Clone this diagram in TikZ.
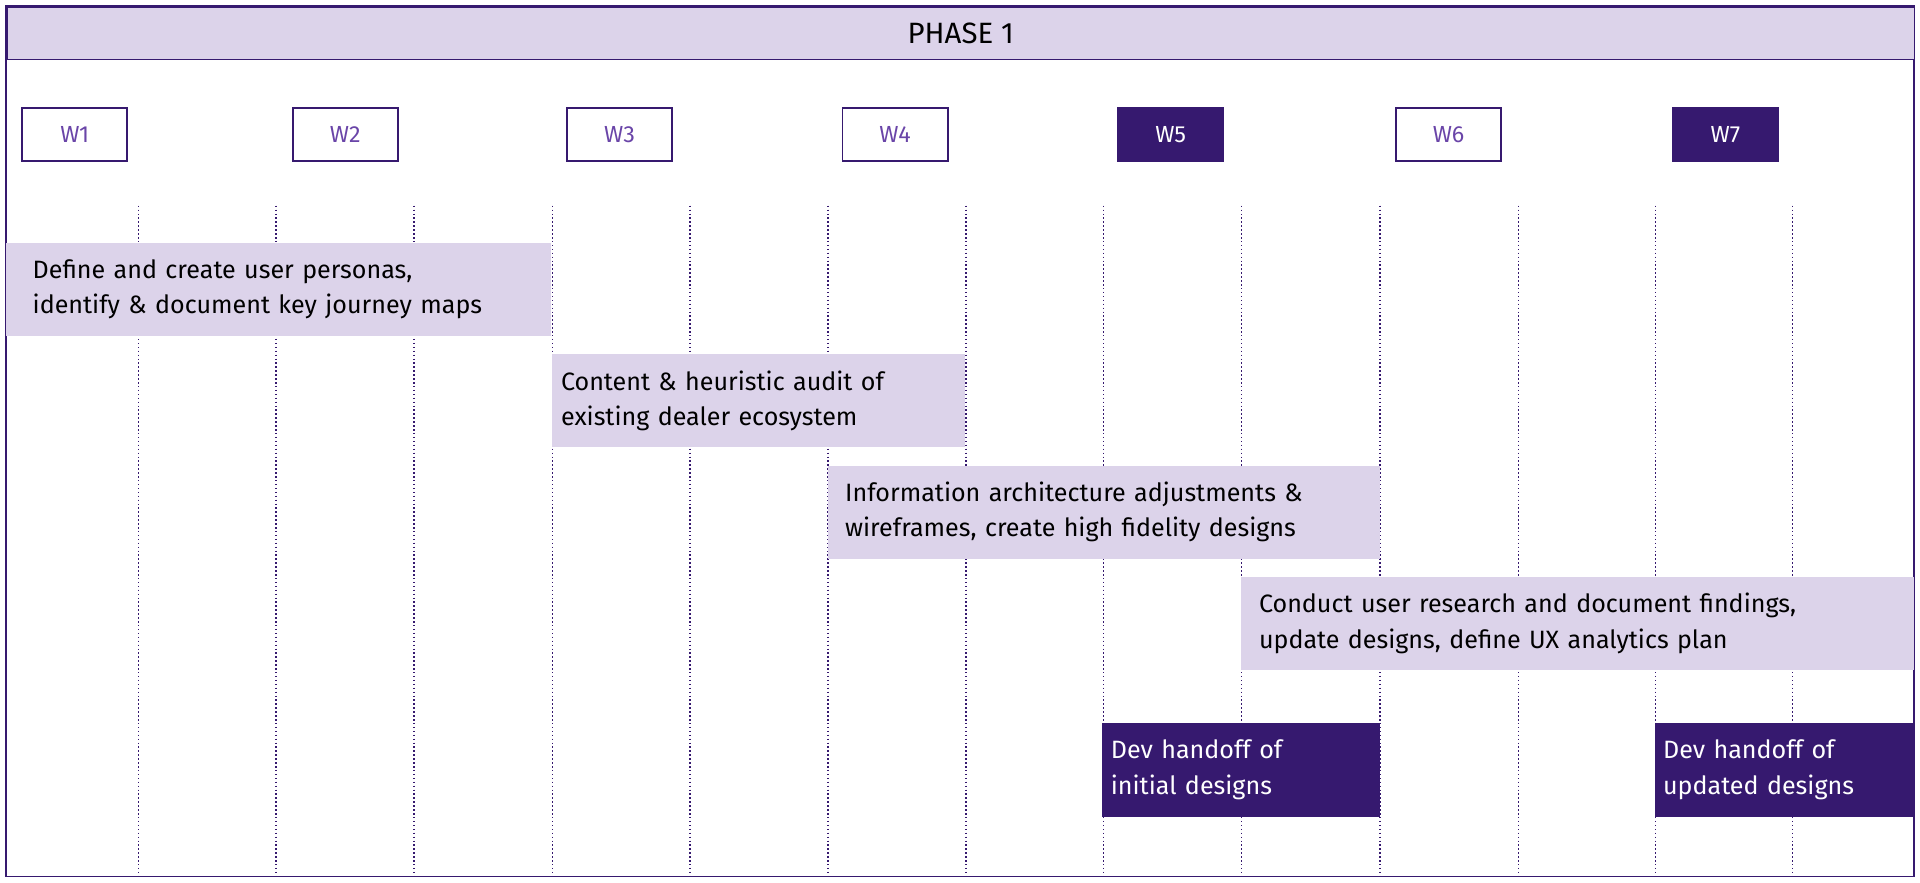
\documentclass[tikz,border=0pt]{standalone}
\usepackage{fontspec}
\setmainfont{Fira Sans}
\usepackage{tikz}
\usetikzlibrary{positioning}
\definecolor{lav}{HTML}{DCD3EA}
\definecolor{deep}{HTML}{36196F}
\definecolor{wtext}{HTML}{6A45A8}

\begin{document}
\begin{tikzpicture}[x=1pt,y=-1pt,
  week/.style={draw=deep,line width=1.5pt,minimum width=86pt,minimum height=43pt,
    inner sep=0pt,text=wtext,font=\fontsize{19}{22}\selectfont},
  weekdone/.style={week,fill=deep,text=white},
  task/.style={fill=lav,anchor=north west,align=left,inner sep=0pt,
    text=black,font=\fontsize{20.5}{29}\selectfont},
  handoff/.style={task,fill=deep,text=white}]

  \useasboundingbox (0,0) rectangle (1568,721);
  % frame and header
  \draw[deep,line width=1.2pt] (5,5) rectangle (1563,716);
  \node[draw=deep,line width=1.2pt,fill=lav,anchor=north west,minimum width=1558pt,
    minimum height=43pt,inner sep=0pt,font=\fontsize{24}{28}\selectfont] (phase) at (5,5) {PHASE 1};

  % weeks
  \node[week] (w1) at (61,110) {W1};
  \node[week] (w2) at (282,110) {W2};
  \node[week] (w3) at (506,110) {W3};
  \node[week] (w4) at (731,110) {W4};
  \node[weekdone] (w5) at (956,110) {W5};
  \node[week] (w6) at (1183,110) {W6};
  \node[weekdone] (w7) at (1409,110) {W7};

  % half-week grid
  \foreach \gx in {113,225.5,338,451,563.5,676,789,901,1014,1127,1240,1352,1464}
    \draw[deep,dotted,line width=1.2pt] (\gx,168) -- (\gx,716);

  % tasks
  \node[task,minimum width=445pt,minimum height=76pt,text width=426pt] (t1) at (5,198)
    {\hspace*{12pt}\parbox[c][76pt][c]{420pt}{Define and create user personas,\\identify \& document key journey maps}};
  \node[task,minimum width=337pt,minimum height=76pt,text width=337pt] (t2) at (451,289)
    {\hspace*{7pt}\parbox[c][76pt][c]{325pt}{Content \& heuristic audit of\\existing dealer ecosystem}};
  \node[task,minimum width=451pt,minimum height=76pt,text width=451pt] (t3) at (676,380)
    {\hspace*{14pt}\parbox[c][76pt][c]{430pt}{Information architecture adjustments \&\\wireframes, create high fidelity designs}};
  \node[task,minimum width=550pt,minimum height=76pt,text width=550pt] (t4) at (1013,471)
    {\hspace*{15pt}\parbox[c][76pt][c]{530pt}{Conduct user research and document findings,\\update designs, define UX analytics plan}};
  \node[handoff,minimum width=227pt,minimum height=77pt,text width=227pt] (h1) at (900,590)
    {\hspace*{7pt}\parbox[c][77pt][c]{215pt}{Dev handoff of\\initial designs}};
  \node[handoff,minimum width=212pt,minimum height=77pt,text width=212pt] (h2) at (1351,590)
    {\hspace*{7pt}\parbox[c][77pt][c]{200pt}{Dev handoff of\\updated designs}};
\end{tikzpicture}
\end{document}
